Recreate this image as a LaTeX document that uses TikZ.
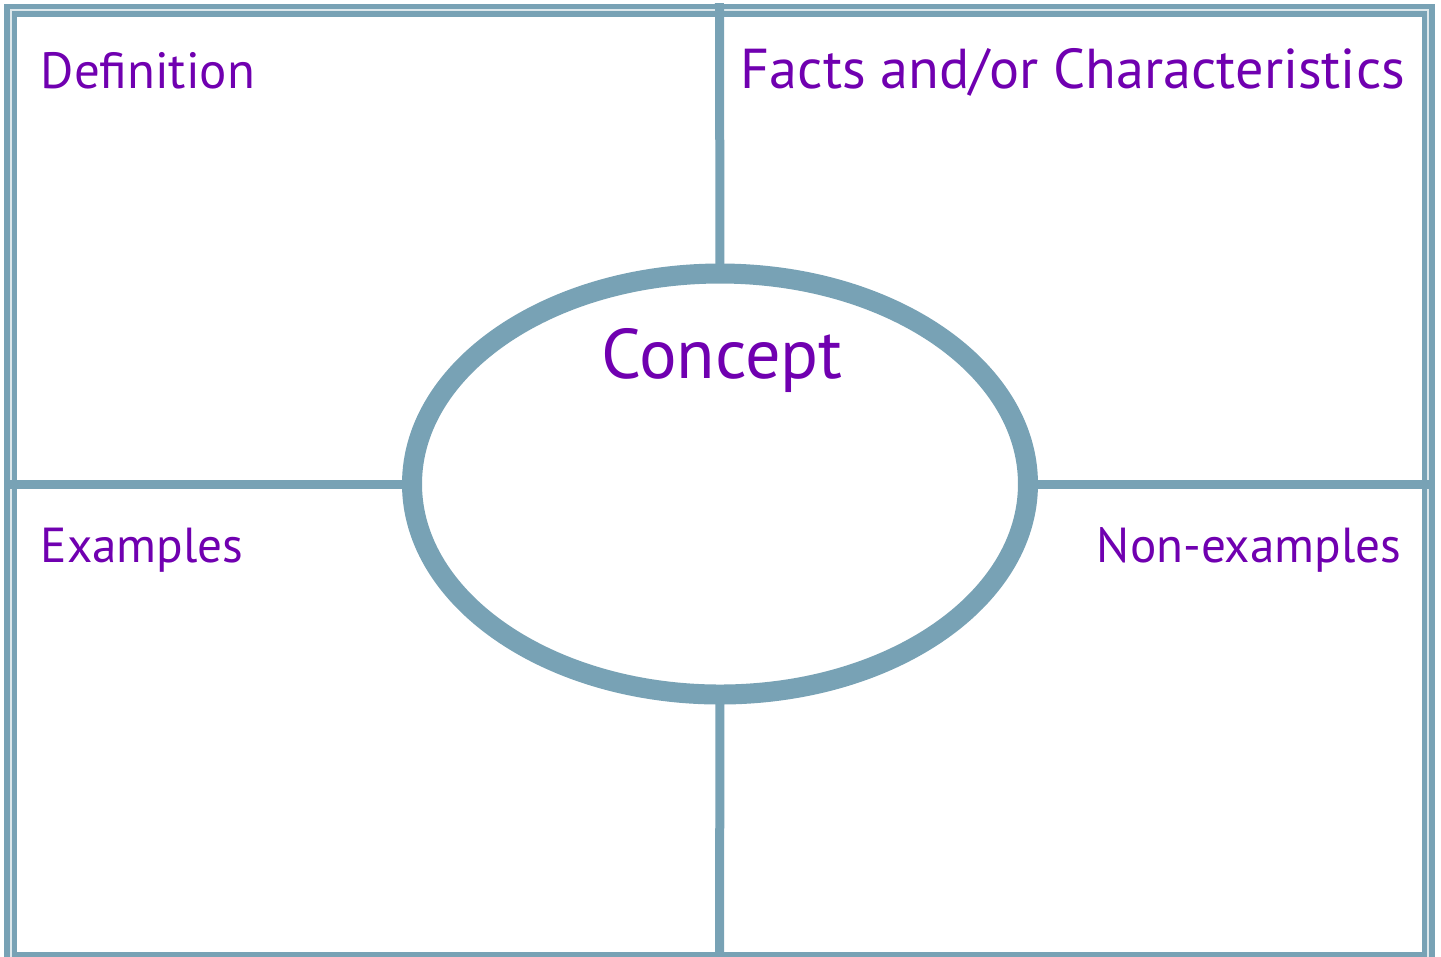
\documentclass[tikz,border=0pt]{standalone}
\usepackage{fontspec}
\setmainfont{PT Sans}
\usepackage{xcolor}
\usepackage{tikz}
\usetikzlibrary{shapes.geometric}
\definecolor{rule}{HTML}{78A2B5}
\definecolor{plum}{HTML}{7000B0}

\begin{document}
\begin{tikzpicture}[
  x=0.1mm, y=-0.1mm,
  frame/.style={draw=rule, line width=0.55mm, double=rule!25, double distance=0.2mm,
    outer sep=0pt, inner sep=0pt, minimum width=141.8mm, minimum height=94.8mm},
  hub/.style={ellipse, draw=rule, line width=2mm, fill=white, inner sep=0pt,
    outer sep=0pt, minimum width=61.6mm, minimum height=42.1mm},
  divider/.style={draw=rule, line width=0.9mm},
  heading/.style={text=plum, inner sep=0pt, font=\fontsize{14}{17}\selectfont}
]
\useasboundingbox (0,0) rectangle (1441,956);
\node[frame] (frame) at (719.5,484) {};
\node[hub] (concept) at (720,484) {};
% the four quadrant rules meet the oval
\draw[divider, shorten >=-0.7mm] (concept.north) -- (frame.north);
\draw[divider, shorten >=-0.7mm] (concept.south) -- (frame.south);
\draw[divider, shorten >=-0.7mm] (concept.west) -- (frame.west);
\draw[divider, shorten >=-0.7mm] (concept.east) -- (frame.east);
\node[heading, anchor=base west, font=\fontsize{14.5}{17}\selectfont] (definition) at (40,88) {Definition};
\node[heading, anchor=base west, font=\fontsize{16}{19}\selectfont] (facts) at (740,88) {Facts and/or Characteristics};
\node[heading, anchor=base west] (examples) at (40,562) {Examples};
\node[heading, anchor=base east] (nonexamples) at (1402,562) {Non-examples};
\node[heading, anchor=base, font=\fontsize{20}{24}\selectfont] (title) at (722,378) {Concept};
\end{tikzpicture}
\end{document}
